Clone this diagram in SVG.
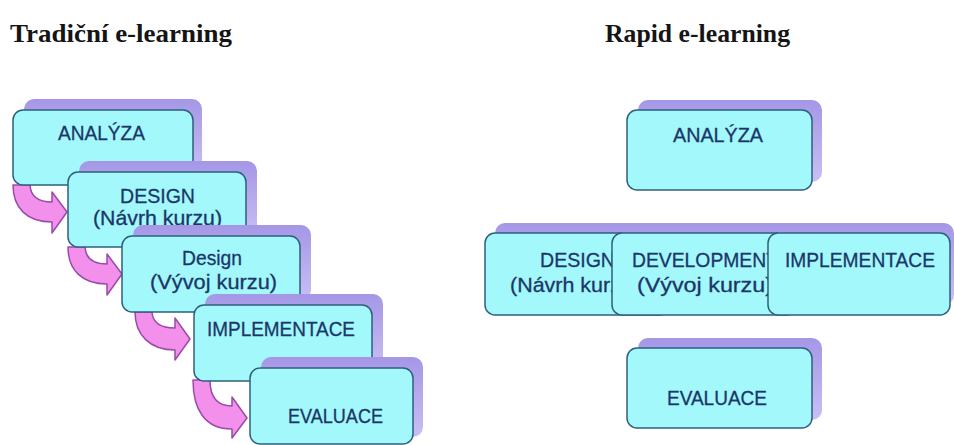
<svg xmlns="http://www.w3.org/2000/svg" width="954" height="445" viewBox="0 0 954 445">
<defs>
<linearGradient id="sg" x1="0" y1="0" x2="0" y2="1">
<stop offset="0" stop-color="#a597e6"/>
<stop offset="1" stop-color="#c9bff4"/>
</linearGradient>
<style>
.title{font-family:"Liberation Serif","Times New Roman",serif;font-weight:bold;font-size:25px;fill:#151515}
.box{fill:#a2f8fb;stroke:#2f5f7e;stroke-width:1.5}
.shd{fill:url(#sg)}
.t{font-family:"Liberation Sans",Arial,sans-serif;font-size:21px;fill:#1c3668;stroke:#1c3668;stroke-width:0.3}
.arr{fill:#f290ec;stroke:#9a4aa8;stroke-width:1.5;stroke-linejoin:round}
</style>
</defs>
<rect width="954" height="445" fill="#ffffff"/>
<text class="title" x="10" y="42" textLength="222" lengthAdjust="spacingAndGlyphs">Tradiční e-learning</text>
<text class="title" x="605" y="42" textLength="185" lengthAdjust="spacingAndGlyphs">Rapid e-learning</text>

<g id="connectors">
<path class="arr" d="M13,185 H30 Q31,202 52,202 V192 L67,212 L52,233 V222 C27,222 13,208 13,185 Z"/>
<path class="arr" d="M68,247 H85 Q86,264 107,264 V254 L122,274 L107,295 V284 C82,284 68,270 68,247 Z"/>
<path class="arr" d="M135,312 H152 Q153,328 175,328 V318 L190,339 L175,360 V350 C150,350 135,335 135,312 Z"/>
<path class="arr" d="M193,380 H210 Q210,406 232,406 V397 L247,418 L232,438 V429 C205,429 193,410 193,380 Z"/>
</g>

<g id="L1">
<rect class="shd" x="24" y="99" width="178" height="75" rx="10"/>
<rect class="box" x="13" y="110" width="180" height="75" rx="10"/>
<text class="t" x="58" y="140" textLength="87" lengthAdjust="spacingAndGlyphs">ANALÝZA</text>
</g>
<g id="L2">
<rect class="shd" x="79" y="161" width="178" height="75" rx="10"/>
<rect class="box" x="68" y="172" width="178" height="75" rx="10"/>
<text class="t" x="120" y="203" textLength="75" lengthAdjust="spacingAndGlyphs">DESIGN</text>
<text class="t" x="93" y="225" textLength="129" lengthAdjust="spacingAndGlyphs">(Návrh kurzu)</text>
</g>
<g id="L3">
<rect class="shd" x="133" y="225" width="178" height="75" rx="10"/>
<rect class="box" x="122" y="236" width="178" height="76" rx="10"/>
<text class="t" x="182" y="265" textLength="60" lengthAdjust="spacingAndGlyphs">Design</text>
<text class="t" x="150" y="289" textLength="127" lengthAdjust="spacingAndGlyphs">(Vývoj kurzu)</text>
</g>
<g id="L4">
<rect class="shd" x="205" y="294" width="178" height="76" rx="10"/>
<rect class="box" x="194" y="305" width="178" height="76" rx="10"/>
<text class="t" x="207" y="336" textLength="148" lengthAdjust="spacingAndGlyphs">IMPLEMENTACE</text>
</g>
<g id="L5">
<rect class="shd" x="261" y="357" width="162" height="80" rx="10"/>
<rect class="box" x="250" y="368" width="163" height="76" rx="10"/>
<text class="t" x="288" y="423" textLength="95" lengthAdjust="spacingAndGlyphs">EVALUACE</text>
</g>

<g id="R1">
<rect class="shd" x="638" y="100" width="184" height="82" rx="10"/>
<rect class="box" x="627" y="110" width="185" height="80" rx="10"/>
<text class="t" x="673" y="142" textLength="90" lengthAdjust="spacingAndGlyphs">ANALÝZA</text>
</g>
<g id="R2">
<rect class="shd" x="495" y="223" width="182" height="82" rx="10"/>
<rect class="box" x="485" y="233" width="185" height="82" rx="10"/>
<text class="t" x="540" y="267" textLength="75" lengthAdjust="spacingAndGlyphs">DESIGN</text>
<text class="t" x="510" y="292" textLength="130" lengthAdjust="spacingAndGlyphs">(Návrh kurzu)</text>
</g>
<g id="R3">
<rect class="shd" x="622" y="223" width="182" height="82" rx="10"/>
<rect class="box" x="612" y="233" width="185" height="82" rx="10"/>
<text class="t" x="632" y="267" textLength="146" lengthAdjust="spacingAndGlyphs">DEVELOPMENT</text>
<text class="t" x="637" y="292" textLength="136" lengthAdjust="spacingAndGlyphs">(Vývoj kurzu)</text>
</g>
<g id="R4">
<rect class="shd" x="778" y="223" width="176" height="82" rx="10"/>
<rect class="box" x="768" y="233" width="182" height="82" rx="10"/>
<text class="t" x="785" y="267" textLength="150" lengthAdjust="spacingAndGlyphs">IMPLEMENTACE</text>
</g>
<g id="R5">
<rect class="shd" x="638" y="338" width="184" height="82" rx="10"/>
<rect class="box" x="627" y="348" width="185" height="80" rx="10"/>
<text class="t" x="667" y="405" textLength="100" lengthAdjust="spacingAndGlyphs">EVALUACE</text>
</g>
</svg>
